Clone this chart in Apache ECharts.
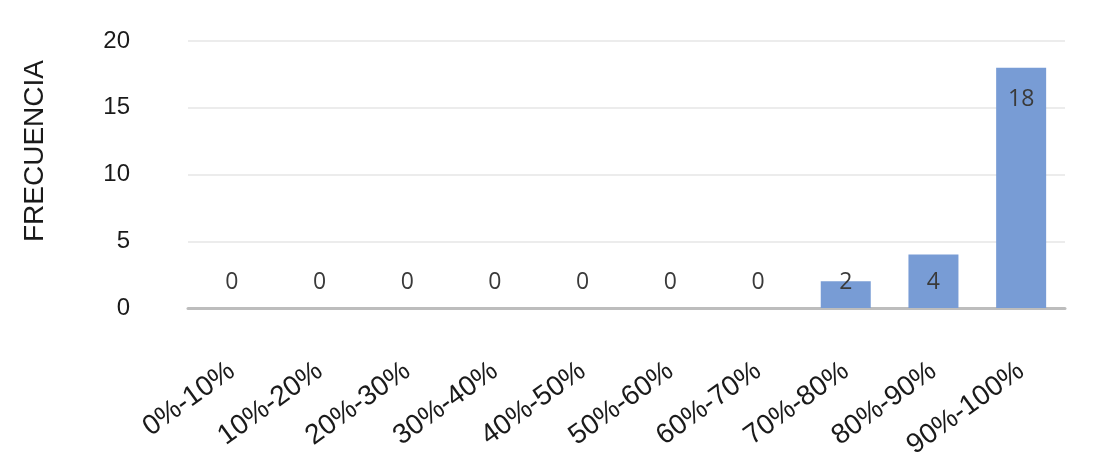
<!DOCTYPE html>
<html>
<head>
<meta charset="utf-8">
<script src="https://cdn.jsdelivr.net/npm/echarts@6/dist/echarts.min.js"></script>
<style>
  html, body { margin: 0; padding: 0; background: #fff; }
  #chart { width: 1105px; height: 469px; }
</style>
</head>
<body>
<div id="chart"></div>
<script>
const categories = ['0%-10%', '10%-20%', '20%-30%', '30%-40%', '40%-50%',
  '50%-60%', '60%-70%', '70%-80%', '80%-90%', '90%-100%'];
const frecuencia = [0, 0, 0, 0, 0, 0, 0, 2, 4, 18];
const yTicks = { min: 0, max: 20, interval: 5 };

const chart = echarts.init(document.getElementById('chart'));

// tall bars get the label inside the top, short ones sit near the axis
const barData = frecuencia.map((v) => ({
  value: v,
  label: v >= 10
    ? { position: 'insideTop', distance: 20 }
    : { position: 'insideBottom', distance: 14 },
}));

chart.setOption({
  animation: false,
  grid: { left: 188, right: 40, top: 41, bottom: 161 },
  xAxis: {
    type: 'category',
    data: categories,
    axisLine: { lineStyle: { color: '#bdbdbd', width: 3 } },
    axisTick: { show: false },
    axisLabel: {
      rotate: 36,
      margin: 60,
      interval: 0,
      color: '#1a1a1a',
      fontSize: 28,
      fontFamily: 'Liberation Sans',
    },
  },
  yAxis: {
    type: 'value',
    min: yTicks.min,
    max: yTicks.max,
    interval: yTicks.interval,
    axisLine: { show: false },
    axisTick: { show: false },
    splitLine: { lineStyle: { color: '#ececec', width: 2 } },
    axisLabel: {
      margin: 58,
      color: '#1a1a1a',
      fontSize: 24,
      fontFamily: 'Liberation Sans',
    },
  },
  graphic: [{
    type: 'text',
    left: 21,
    top: 60,
    rotation: Math.PI / 2,
    style: {
      text: 'FRECUENCIA',
      fill: '#1a1a1a',
      font: '28px "Liberation Sans"',
    },
  }],
  series: [{
    type: 'bar',
    data: barData,
    barWidth: 50,
    itemStyle: { color: '#789cd5' },
    label: {
      show: true,
      color: '#3a3a3a',
      fontSize: 23,
      fontFamily: 'Open Sans',
    },
  }],
});
</script>
</body>
</html>
